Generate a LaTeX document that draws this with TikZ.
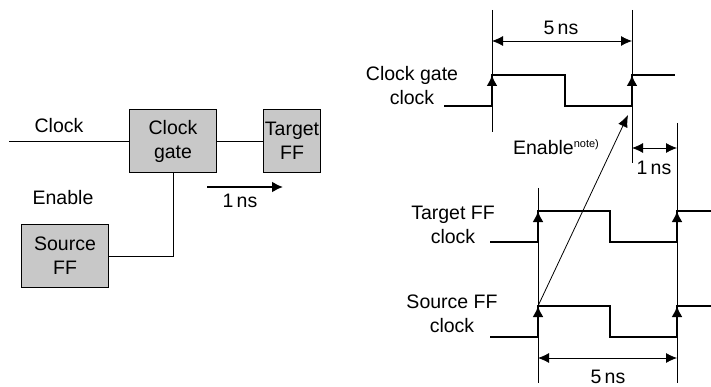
\documentclass[tikz,border=0pt]{standalone}
\usepackage{fontspec}
\setmainfont{Liberation Sans}
\usetikzlibrary{arrows.meta,positioning}

\definecolor{boxgray}{RGB}{200,200,200}

\tikzset{
  block/.style={draw, fill=boxgray, line width=0.8pt, minimum height=63pt, align=center, inner sep=0pt},
  wave/.style={line width=2pt},
  edgetip/.style={line width=2pt, -{Latex[length=11pt,width=11pt]}},
  marker/.style={line width=0.8pt},
  span/.style={line width=0.8pt, {Latex[length=11pt,width=10pt]}-{Latex[length=11pt,width=10pt]}},
}

\begin{document}
\begin{tikzpicture}[x=1pt,y=-1pt,on grid,font=\fontsize{19.5}{24}\selectfont,>=Latex]
\useasboundingbox (0,0) rectangle (711,387);

% gating path
\node[block, minimum width=87pt] (gate) at (173,141) {Clock\\gate};
\node[block, minimum width=57pt, right=119pt of gate] (target) {Target\\FF};
\node[block, minimum width=87pt, below left=115pt and 108pt of gate] (source) {Source\\FF};

\coordinate (clkin) at (9,141);
\draw[marker] (clkin) -- (gate);
\draw[marker] (gate) -- (target);
\draw[marker] (gate.south) |- (source);

\node (clklbl) at (59,126) {Clock};
\node (enlbl) at (63,198) {Enable};

\coordinate (dly0) at (207,187);
\coordinate (dly1) at (283,187);
\draw[wave,-{Latex[length=11pt,width=11pt]}] (dly0) -- (dly1);
\node (dlylbl) at (240,201) {1\,ns};

% waveforms: low, high, start, rise, fall, next rise, end
\foreach \lo/\hi/\xs/\xr/\xf/\xn/\xe in {106/75/444/492/565/632/675,
                                         242/211/490/538/610/677/711,
                                         337/306/490/538/610/677/711}{
  \draw[wave] (\xs,\lo) -- (\xr,\lo) -- (\xr,\hi) -- (\xf,\hi) -- (\xf,\lo)
              -- (\xn,\lo) -- (\xn,\hi) -- (\xe,\hi);
  \draw[edgetip] (\xr,\lo) -- (\xr,\hi);
  \draw[edgetip] (\xn,\lo) -- (\xn,\hi);
}

\node[align=center] (cglbl) at (412,86) {Clock gate\\clock};
\node[align=center] (tglbl) at (453,225) {Target FF\\clock};
\node[align=center] (srlbl) at (452,314) {Source FF\\clock};

% timing markers
\draw[marker] (492,10) -- (492,132);
\draw[marker] (632,10) -- (632,163);
\draw[marker] (677,123) -- (677,383);
\draw[marker] (538,188) -- (538,383);

\coordinate (per0) at (492,41);
\coordinate (per1) at (632,41);
\draw[span] (per0) -- (per1);
\node (perlbl) at (561,28) {5\,ns};

\coordinate (skw0) at (632,148);
\coordinate (skw1) at (677,148);
\draw[span] (skw0) -- (skw1);
\node (skwlbl) at (654,168) {1\,ns};

\coordinate (sper0) at (538,358);
\coordinate (sper1) at (677,358);
\draw[span] (sper0) -- (sper1);
\node[inner sep=1pt] (sperlbl) at (608,377) {5\,ns};

% enable launched by the source clock
\coordinate (srrise) at (538,306);
\coordinate (entip) at (628,115);
\draw[marker,-{Latex[length=12pt,width=10pt]}] (srrise) -- (entip);
\node[anchor=base] (enote) at (556,155) {Enable\raisebox{7pt}{\fontsize{11}{12}\selectfont note)}};
\end{tikzpicture}
\end{document}
